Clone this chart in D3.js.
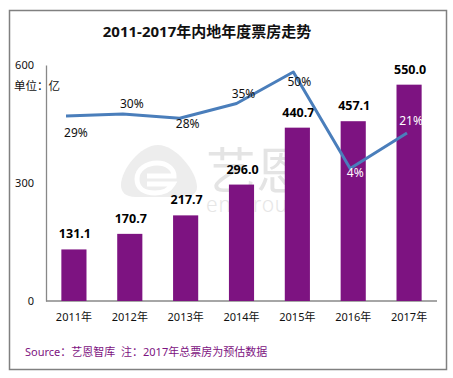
<!DOCTYPE html>
<html>
<head>
<meta charset="utf-8">
<script src="https://cdn.jsdelivr.net/npm/d3@7"></script>
<style>
  html, body { margin: 0; padding: 0; background: #fff; }
  svg { display: block; font-family: "Noto Sans", "Noto Sans CJK SC", sans-serif; }
</style>
</head>
<body>
<svg id="chart" width="453" height="378"></svg>
<script>
// ---- data ----
const years = ["2011年", "2012年", "2013年", "2014年", "2015年", "2016年", "2017年"];
const boxOffice = [131.1, 170.7, 217.7, 296.0, 440.7, 457.1, 550.0];
const growth = [0.29, 0.30, 0.28, 0.35, 0.50, 0.04, 0.21];
const growthLabels = ["29%", "30%", "28%", "35%", "50%", "4%", "21%"];
const yTicks = [0, 300, 600];
const titleText = "2011-2017年内地年度票房走势";
const unitText = "单位：亿";
const sourceText = "Source：艺恩智库\u00a0\u00a0注：2017年总票房为预估数据";

// ---- drawing ----
const svg = d3.select("#chart");
const barColor = "#7D1381";
const lineColor = "#4A7EBB";

// frame
svg.append("rect").attr("x", 9.5).attr("y", 10.5).attr("width", 437).attr("height", 359)
  .attr("fill", "#fff").attr("stroke", "#808080").attr("stroke-width", 1.5);

// watermark
const wm = svg.append("g");
wm.append("path")
  .attr("d", "M158,145 C176,145 197,172 197,187 C197,194 191,197 181,197 L136,197 C125,197 121,192 121,185 C121,170 140,145 158,145 Z")
  .attr("fill", "#ededed");
wm.append("path")
  .attr("d", "M137,179 C137,169 147,163 157,163 C167,163 174,169 174,176 L147,176 M147,184 L173,184 C169,191 161,193 155,193 C145,193 137,189 137,179")
  .attr("fill", "none").attr("stroke", "#fff").attr("stroke-width", 5);
wm.append("text").attr("x", 206).attr("y", 189).attr("font-size", 50)
  .attr("font-family", "Noto Sans CJK SC").attr("fill", "#e4e4e4").text("艺恩");
wm.append("text").attr("x", 206).attr("y", 212).attr("font-size", 21)
  .attr("font-family", "Noto Sans").attr("font-weight", 300).attr("fill", "#e6e6e6")
  .attr("letter-spacing", 0.8).text("entgroup");

// scales
const x = d3.scaleBand().domain(years).range([46, 437]).paddingInner(0.55).paddingOuter(0.275);
const y = d3.scaleLinear().domain([0, 600]).range([301, 65]);
const xLine = d3.scalePoint().domain(years).range([66, 407]);
const y2 = d3.scaleLinear().domain([0, 0.5]).range([177, 72]);

// title
svg.append("text").attr("x", 207).attr("y", 37).attr("text-anchor", "middle")
  .attr("font-size", 15).attr("font-weight", "bold").attr("fill", "#111")
  .text(titleText);

// y axis
const yAxis = d3.axisLeft(y).tickValues(yTicks).tickSize(0).tickPadding(12).tickFormat(d3.format("d"));
const gy = svg.append("g").attr("transform", "translate(46,0)").call(yAxis);
gy.select(".domain").attr("stroke", "#888").attr("stroke-width", 1.3);
gy.selectAll("text").attr("font-size", 11).attr("fill", "#111")
  .attr("font-family", "Noto Sans, Noto Sans CJK SC");

// x axis
const xAxis = d3.axisBottom(x).tickSize(0).tickPadding(12);
const gx = svg.append("g").attr("transform", "translate(0,301)").call(xAxis);
gx.select(".domain").attr("stroke", "#888").attr("stroke-width", 1.3)
  .attr("d", "M46,0H437");
gx.selectAll("text").attr("font-size", 11).attr("fill", "#111")
  .attr("font-family", "Noto Sans, Noto Sans CJK SC");

// unit label
svg.append("text").attr("x", 14).attr("y", 90).attr("font-size", 11.5).attr("fill", "#111")
  .text(unitText);

// bars
svg.append("g").selectAll("rect").data(boxOffice).join("rect")
  .attr("x", (d, i) => x(years[i]))
  .attr("y", d => y(d))
  .attr("width", x.bandwidth())
  .attr("height", d => y(0) - y(d))
  .attr("fill", barColor);

// bar labels
svg.append("g").selectAll("text").data(boxOffice).join("text")
  .attr("x", (d, i) => x(years[i]) + x.bandwidth() / 2 + 1)
  .attr("y", d => y(d) - 11)
  .attr("text-anchor", "middle")
  .attr("font-size", 12.5).attr("font-weight", "bold").attr("fill", "#000")
  .text(d => d3.format(".1f")(d));

// line
const line = d3.line().x((d, i) => xLine(years[i])).y(d => y2(d));
svg.append("path").datum(growth).attr("d", line)
  .attr("fill", "none").attr("stroke", lineColor).attr("stroke-width", 3)
  .attr("stroke-linejoin", "round");

// growth labels
const labelDy = [17, -10, 6, -10, 10, 4, -12.5];
const labelFill = ["#111", "#111", "#111", "#111", "#111", "#fff", "#fff"];
svg.append("g").selectAll("text").data(growth).join("text")
  .attr("x", (d, i) => x(years[i]) + x.bandwidth() / 2 + 2)
  .attr("y", (d, i) => y2(d) + labelDy[i])
  .attr("dy", "0.35em")
  .attr("text-anchor", "middle")
  .attr("font-size", 12).attr("fill", (d, i) => labelFill[i])
  .text((d, i) => growthLabels[i]);

// source
svg.append("text").attr("x", 25).attr("y", 356).attr("font-size", 11).attr("fill", "#7D1381")
  .text(sourceText);
</script>
</body>
</html>
